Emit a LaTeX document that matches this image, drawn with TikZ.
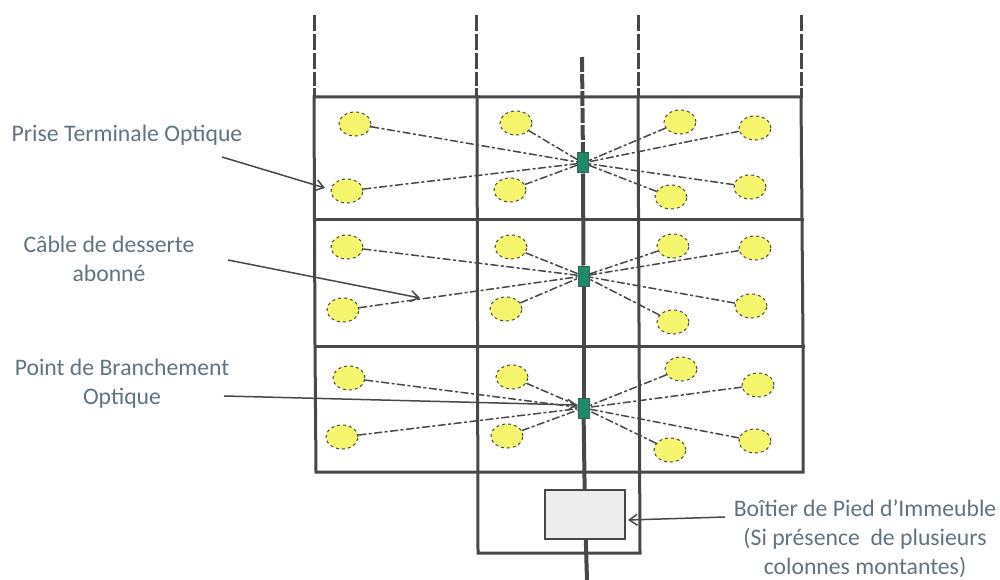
\documentclass[tikz,border=0pt]{standalone}
\usepackage{fontspec}
\setmainfont{Carlito}
\usetikzlibrary{arrows.meta,shapes.geometric}
\definecolor{ink}{HTML}{484848}
\definecolor{lab}{HTML}{5F7480}
\definecolor{pto}{HTML}{F6F66E}
\definecolor{pbo}{HTML}{1F8A68}
\tikzset{
  x=1pt,y=-1pt,
  frame/.style={draw=ink,line width=3pt,line cap=rect},
  riser/.style={draw=ink,line width=3pt,dash pattern=on 16pt off 3pt},
  column/.style={draw=ink,line width=4pt},
  ptonode/.style={ellipse,draw=ink,dashed,line width=1pt,fill=pto,minimum width=32pt,minimum height=24pt,inner sep=0pt},
  pbonode/.style={rectangle,draw=ink!60!pbo,line width=1pt,fill=pbo,minimum width=11pt,minimum height=20pt,inner sep=0pt},
  bpinode/.style={rectangle,draw=ink,line width=1.5pt,fill=black!7,minimum width=80pt,minimum height=49pt,inner sep=0pt},
  cable/.style={draw=ink,line width=1.5pt,dash pattern=on 8pt off 2.5pt on 3pt off 2.5pt},
  pointer/.style={draw=ink,line width=1.5pt,-{Straight Barb[length=8pt,width=11pt]}},
  label/.style={text=lab,font=\fontsize{23.7}{29}\selectfont,align=center,inner sep=0pt}
}
\begin{document}
\begin{tikzpicture}
\useasboundingbox (0,0) rectangle (1000,580);
% building frame
\draw[frame] (314,97) -- (801,97) -- (803,346) -- (803,472) -- (316,472) -- (315,346) -- cycle;
\draw[frame] (314,219) -- (802,219);
\draw[frame] (315,346) -- (803,346);
\draw[frame] (477,97) -- (478,553) -- (640,553) -- (638,97);
% risers above the frame
\foreach \x/\xb in {314/314,476/476,638/638,801/801}{
  \draw[riser] (\x,15) -- (\x,86);
  \draw[frame] (\x,90) -- (\xb,97);
}
% nodes
\node[pbonode] (p1) at (583,163) {};
\node[pbonode] (p2) at (583.5,276) {};
\node[pbonode] (p3) at (583.5,408) {};
\node[bpinode] (b) at (585,514.5) {};
\coordinate (top) at (582,57);
\coordinate (bottom) at (587,580);
\draw[column,dash pattern=on 15pt off 2pt] (top) -- (p1);
\draw[column] (p1) -- (p2);
\draw[column] (p2) -- (p3);
\draw[column] (p3) -- (b);
\draw[column] (b) -- (bottom);
% optical outlets
\foreach \n/\x/\y in {
  a1/355/124,a2/347/191,a3/516/123,a4/510/190,a5/680/122,a6/755/128,a7/671/197,a8/750/187,
  c1/347/247,c2/343/310,c3/511/247,c4/506/309,c5/673/246,c6/755/248,c7/673/322,c8/751/306,
  d1/349/378,d2/342/437,d3/512/377,d4/507/436,d5/681/369,d6/758/385,d7/670/450,d8/755/441}
  \node[ptonode] (\n) at (\x,\y) {};
% subscriber cables
\foreach \g/\p in {a/p1,c/p2,d/p3}
  \foreach \i in {1,...,8}
    \draw[cable] (\g\i) -- (\p);
% labels
\node[label] (l1) at (127,135) {Prise Terminale Optique};
\node[label] (l2) at (109,259) {Câble de desserte\\abonné};
\node[label] (l3) at (122,384) {Point de Branchement\\Optique};
\node[label] (l4) at (865,539) {Boîtier de Pied d'Immeuble\\(Si présence~ de plusieurs\\colonnes montantes)};
% pointers
\coordinate (s1) at (222,157);
\coordinate (e1) at (325,188);
\coordinate (s2) at (228,260);
\coordinate (e2) at (420,298);
\coordinate (s3) at (224,396);
\coordinate (e3) at (577,405);
\coordinate (s4) at (725,517);
\coordinate (e4) at (628,520);
\draw[pointer] (s1) -- (e1);
\draw[pointer] (s2) -- (e2);
\draw[pointer] (s3) -- (e3);
\draw[pointer] (s4) -- (e4);
\end{tikzpicture}
\end{document}
